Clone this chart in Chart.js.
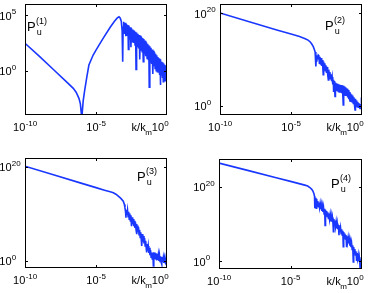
<!DOCTYPE html>
<html lang="en">
<head>
<meta charset="UTF-8">
<title>Velocity spectra P_u</title>
<script src="https://cdn.jsdelivr.net/npm/chart.js"></script>
<style>
  body { margin: 0; background: #fff; }
  canvas { position: absolute; }
</style>
</head>
<body>
<canvas id="p1" width="187" height="146" style="left:0;top:0"></canvas>
<canvas id="p2" width="187" height="146" style="left:187px;top:0"></canvas>
<canvas id="p3" width="187" height="147" style="left:0;top:146px"></canvas>
<canvas id="p4" width="187" height="147" style="left:187px;top:146px"></canvas>
<script>
// values are decade exponents: k/k_m = 10^k, P = 10^p
const xTickExps = [-10, -5, 0];

const kPanel1 = [
  -10, -9, -8, -7, -6.6, -6.4, -6.2, -6.1, -6.03, -6.0,
  -5.97, -5.9, -5.8, -5.65, -5.5, -5.2, -5.0, -4.5, -4.0, -3.7,
  -3.5, -3.38, -3.3, -3.22, -3.16, -3.12, -3.09, -3.05, -3.0, -2.95,
  -2.9, -2.85, -2.8, -2.75, -2.72, -2.68, -2.63, -2.58, -2.54, -2.5,
  -2.45, -2.4, -2.35, -2.3, -2.25, -2.21, -2.18, -2.14, -2.1, -2.05,
  -2.0, -1.95, -1.92, -1.88, -1.84, -1.8, -1.75, -1.71, -1.67, -1.63,
  -1.58, -1.54, -1.5, -1.45, -1.4, -1.36, -1.31, -1.28, -1.25, -1.21,
  -1.17, -1.13, -1.08, -1.04, -1.0, -0.96, -0.92, -0.88, -0.84, -0.8,
  -0.76, -0.72, -0.68, -0.64, -0.6, -0.56, -0.52, -0.49, -0.47, -0.44,
  -0.4, -0.36, -0.32, -0.29, -0.26, -0.23, -0.19, -0.16, -0.12, -0.09,
  -0.06, -0.03, 0
];
const pPanel1 = [
  2.46, 1.3, 0.1, -1.1, -1.6, -1.95, -2.5, -3.0, -3.9, -5.0,
  -3.8, -2.7, -1.8, -0.6, 0.5, 1.4, 1.85, 2.9, 3.9, 4.45,
  4.75, 4.85, 4.75, 4.45, 3.6, 0.8, 3.9, 4.4, 3.3, 4.3,
  3.1, 4.2, 3.2, 4.1, 1.9, 4.05, 2.8, 3.9, 2.1, 3.82,
  2.6, 3.7, 2.5, 3.6, 2.3, 3.5, 0.1, 3.42, 2.2, 3.32,
  2.0, 3.2, 1.0, 3.13, 1.8, 3.04, 1.7, 2.93, 0.8, 2.85,
  1.5, 2.7, 1.3, 2.56, 1.1, 2.42, 1.0, 2.29, -1.5, 2.2,
  0.8, 2.05, 0.6, 1.9, -0.3, 1.78, 0.4, 1.65, 0.2, 1.52,
  0.0, 1.38, -0.1, 1.23, -0.2, 1.1, -0.4, 1.02, -1.3, 0.95,
  -0.4, 0.8, -0.6, 0.72, -1.0, 0.63, -0.7, 0.52, -0.9, 0.45,
  -0.7, 0.35, -0.5
];

const kPanel2 = [
  -10, -8, -6, -5, -4.4, -4.0, -3.8, -3.66, -3.55, -3.43,
  -3.35, -3.3, -3.26, -3.24, -3.21, -3.18, -3.15, -3.12, -3.08, -3.04,
  -3.0, -2.96, -2.92, -2.88, -2.84, -2.8, -2.76, -2.73, -2.7, -2.66,
  -2.62, -2.58, -2.54, -2.5, -2.46, -2.42, -2.37, -2.34, -2.3, -2.26,
  -2.22, -2.18, -2.14, -2.1, -2.06, -2.02, -2.0, -1.97, -1.93, -1.9,
  -1.87, -1.83, -1.79, -1.75, -1.71, -1.67, -1.63, -1.59, -1.55, -1.51,
  -1.47, -1.43, -1.39, -1.35, -1.32, -1.29, -1.25, -1.21, -1.17, -1.13,
  -1.09, -1.05, -1.01, -0.97, -0.93, -0.89, -0.85, -0.81, -0.77, -0.73,
  -0.69, -0.65, -0.61, -0.57, -0.53, -0.49, -0.46, -0.42, -0.38, -0.34,
  -0.3, -0.26, -0.22, -0.18, -0.14, -0.11, -0.07, -0.04, 0
];
const pPanel2 = [
  20.05, 18.2, 16.4, 15.5, 14.95, 14.5, 14.2, 13.85, 13.4, 12.77,
  12.1, 11.6, 10.9, 8.5, 10.8, 9.5, 10.9, 10.0, 10.95, 10.8,
  9.2, 10.6, 8.9, 10.3, 8.6, 9.9, 8.3, 6.7, 9.55, 8.0,
  9.2, 7.6, 8.75, 7.1, 8.4, 6.8, 5.6, 7.8, 6.4, 7.3,
  5.7, 6.8, 5.3, 6.2, 4.6, 5.6, 3.0, 5.35, 3.8, 2.0,
  5.0, 3.4, 4.85, 3.3, 4.75, 3.1, 4.65, 3.0, 4.55, 2.8,
  4.5, 2.7, 4.4, 2.2, 0.2, 4.3, 2.4, 4.15, 2.3, 3.95,
  2.1, 3.7, 1.8, 3.4, 1.4, 3.0, 0.9, 2.7, 1.0, 2.45,
  0.8, 2.2, 0.5, 1.85, 0.2, -0.9, 1.5, 0.0, 1.15, -0.2,
  0.85, -0.3, 0.55, -0.4, -0.6, 0.4, -0.4, 0.3, -0.3
];

const kPanel3 = [
  -10, -8, -6, -5, -4.4, -4.0, -3.78, -3.6, -3.43, -3.25,
  -3.08, -3.0, -2.96, -2.92, -2.89, -2.86, -2.82, -2.78, -2.74, -2.7,
  -2.66, -2.62, -2.58, -2.54, -2.5, -2.46, -2.42, -2.38, -2.34, -2.3,
  -2.26, -2.22, -2.18, -2.14, -2.12, -2.09, -2.05, -2.01, -1.97, -1.93,
  -1.89, -1.85, -1.81, -1.78, -1.74, -1.7, -1.66, -1.62, -1.58, -1.54,
  -1.5, -1.46, -1.43, -1.4, -1.36, -1.32, -1.28, -1.24, -1.2, -1.16,
  -1.12, -1.08, -1.04, -1.0, -0.96, -0.93, -0.89, -0.85, -0.81, -0.77,
  -0.73, -0.69, -0.65, -0.61, -0.57, -0.53, -0.49, -0.45, -0.41, -0.37,
  -0.34, -0.3, -0.26, -0.22, -0.18, -0.14, -0.1, -0.07, -0.03, 0
];
const pPanel3 = [
  20.15, 18.35, 16.5, 15.6, 15.05, 14.7, 14.5, 14.2, 13.8, 13.3,
  12.7, 12.0, 11.3, 10.5, 9.2, 10.9, 9.8, 10.8, 9.4, 10.45,
  8.9, 10.1, 8.5, 9.7, 7.4, 9.3, 7.8, 8.9, 7.4, 8.55,
  7.0, 8.2, 6.6, 7.85, 5.7, 7.55, 6.1, 7.2, 5.6, 6.6,
  5.0, 6.1, 4.4, 3.2, 5.7, 4.1, 5.3, 3.7, 4.85, 3.2,
  4.3, 2.6, 1.8, 3.6, 2.2, 3.2, 1.7, 2.8, 1.2, 2.3,
  0.8, 1.8, 0.4, 1.8, -1.05, 1.85, 0.6, 1.8, 0.3, 1.6,
  0.1, 1.45, 0.2, 1.3, 0.0, 1.15, -0.1, 1.0, -0.3, -0.7,
  0.85, -0.2, 0.7, -0.4, 0.6, -0.3, -0.5, 0.45, -0.3, 0.35
];

const kPanel4 = [
  -10, -8, -6, -5, -4.4, -4.0, -3.8, -3.62, -3.5, -3.43,
  -3.36, -3.32, -3.3, -3.27, -3.23, -3.2, -3.17, -3.13, -3.09, -3.05,
  -3.01, -2.97, -2.93, -2.89, -2.85, -2.81, -2.77, -2.73, -2.69, -2.65,
  -2.61, -2.58, -2.55, -2.51, -2.47, -2.43, -2.39, -2.35, -2.31, -2.27,
  -2.23, -2.19, -2.15, -2.11, -2.07, -2.03, -2.0, -1.97, -1.93, -1.89,
  -1.85, -1.81, -1.77, -1.73, -1.69, -1.65, -1.61, -1.58, -1.54, -1.5,
  -1.46, -1.42, -1.38, -1.34, -1.31, -1.28, -1.24, -1.2, -1.16, -1.12,
  -1.08, -1.05, -1.01, -0.97, -0.93, -0.89, -0.85, -0.81, -0.77, -0.73,
  -0.69, -0.65, -0.61, -0.58, -0.54, -0.5, -0.46, -0.42, -0.38, -0.35,
  -0.31, -0.27, -0.23, -0.19, -0.15, -0.13, -0.1, -0.07, -0.04, 0
];
const pPanel4 = [
  26.3, 24.35, 22.4, 21.4, 20.8, 20.4, 20.15, 19.7, 19.2, 18.8,
  18.1, 17.4, 14.2, 17.0, 15.8, 14.2, 16.7, 14.8, 16.1, 14.6,
  15.75, 14.4, 15.45, 14.0, 15.1, 13.5, 14.75, 13.2, 14.4, 12.7,
  14.05, 9.6, 13.75, 12.4, 13.45, 12.0, 13.1, 11.5, 12.8, 11.3,
  12.45, 10.7, 12.1, 10.6, 11.75, 10.2, 7.9, 11.3, 9.8, 10.9,
  9.3, 10.5, 8.8, 10.1, 8.6, 9.7, 7.0, 9.35, 7.8, 8.95,
  7.4, 8.55, 7.0, 8.15, 3.9, 7.85, 6.4, 7.45, 6.0, 7.05,
  4.0, 6.7, 5.2, 6.3, 4.8, 5.9, 4.2, 5.3, 3.8, 4.9,
  3.2, 4.3, -0.2, 3.8, 2.2, 3.25, 1.7, 2.7, 0.3, 2.2,
  0.7, 1.7, 0.0, 1.1, -0.5, -2.2, 0.5, -1.0, 0.05, -0.8
];

const yTicks1 = [0, 5];
const yTicks234 = [0, 20];
const panelTags = ['(1)', '(2)', '(3)', '(4)'];

const FONT = '"Liberation Sans", Arial, Helvetica, sans-serif';
const LINE_BLUE = 'rgb(25, 55, 255)';

// "10" with raised exponent; mode: 'center' | 'right' | 'baseEnd'
function drawPower(ctx, exp, x, y, mode) {
  ctx.font = '11px ' + FONT;
  const wb = ctx.measureText('10').width;
  ctx.font = '8px ' + FONT;
  const we = ctx.measureText(exp).width;
  let x0 = x - wb;
  if (mode === 'center') x0 = x - (wb + we) / 2;
  if (mode === 'right') x0 = x - wb - we;
  ctx.font = '11px ' + FONT;
  ctx.fillText('10', x0, y);
  ctx.font = '8px ' + FONT;
  ctx.fillText(exp, x0 + wb + 0.3, y - 5.5);
  return x0;
}

const framePlugin = {
  id: 'frame',
  afterDatasetsDraw(chart, args, opts) {
    const ctx = chart.ctx;
    const a = chart.chartArea;
    const xs = chart.scales.x, ys = chart.scales.y;
    const L = Math.round(a.left), R = Math.round(a.right);
    const T = Math.round(a.top), B = Math.round(a.bottom);
    ctx.save();
    ctx.strokeStyle = '#000';
    ctx.fillStyle = '#000';
    ctx.lineWidth = 1;
    ctx.strokeRect(L + 0.5, T + 0.5, R - L - 1, B - T - 1);

    // inward tick marks
    ctx.beginPath();
    xTickExps.forEach(e => {
      const px = Math.round(xs.getPixelForValue(Math.pow(10, e))) + 0.5;
      if (px > L + 2 && px < R - 2) {
        ctx.moveTo(px, B); ctx.lineTo(px, B - 3);
        ctx.moveTo(px, T); ctx.lineTo(px, T + 3);
      }
    });
    opts.yTicks.forEach(e => {
      const py = Math.round(ys.getPixelForValue(Math.pow(10, e))) + 0.5;
      ctx.moveTo(L, py); ctx.lineTo(L + 3, py);
      ctx.moveTo(R, py); ctx.lineTo(R - 3, py);
    });
    ctx.stroke();

    ctx.textBaseline = 'alphabetic';
    ctx.textAlign = 'left';
    // x tick labels
    const xb = B + 16;
    let startZero = R;
    xTickExps.forEach(e => {
      const px = xs.getPixelForValue(Math.pow(10, e));
      if (e === 0) startZero = drawPower(ctx, '0', R + 1.5, xb, 'right');
      else drawPower(ctx, String(e), px, xb, 'center');
    });
    // axis label k/k_m sits just before 10^0
    ctx.font = '8px ' + FONT;
    const wm = ctx.measureText('m').width;
    ctx.font = '11px ' + FONT;
    const wk = ctx.measureText('k/k').width;
    const kx = startZero - wm - wk + 0.5;
    ctx.fillText('k/k', kx, xb);
    ctx.font = '8px ' + FONT;
    ctx.fillText('m', kx + wk - 0.5, xb + 4);

    // y tick labels
    opts.yTicks.forEach(e => {
      const py = ys.getPixelForValue(Math.pow(10, e));
      drawPower(ctx, String(e), L - 13.5, py + 4.5, 'baseEnd');
    });

    // panel tag P_u^(n)
    const t = opts.tag;
    ctx.font = '13px ' + FONT;
    ctx.fillText('P', t.x, t.y);
    const wp = ctx.measureText('P').width;
    ctx.font = '9px ' + FONT;
    ctx.fillText(t.text, t.x + wp + 0.3, t.y - 7);
    ctx.fillText('u', t.x + wp + 1, t.y + 3.5);
    ctx.restore();
  }
};

function makePanel(id, ks, ps, cfg) {
  const points = ks.map((k, i) => ({ x: Math.pow(10, k), y: Math.pow(10, ps[i]) }));
  new Chart(document.getElementById(id), {
    type: 'scatter',
    data: {
      datasets: [{
        data: points,
        showLine: true,
        borderColor: LINE_BLUE,
        borderWidth: 1.6,
        pointRadius: 0,
        tension: 0,
        clip: 0
      }]
    },
    options: {
      responsive: false,
      animation: false,
      devicePixelRatio: 1,
      events: [],
      layout: { padding: cfg.pad },
      scales: {
        x: { type: 'logarithmic', display: false, min: 1e-10, max: 1 },
        y: { type: 'logarithmic', display: false, min: Math.pow(10, cfg.yMin), max: Math.pow(10, cfg.yMax) }
      },
      plugins: {
        legend: { display: false },
        tooltip: { enabled: false },
        frame: { yTicks: cfg.yTicks, tag: cfg.tag }
      }
    },
    plugins: [framePlugin]
  });
}

makePanel('p1', kPanel1, pPanel1, {
  pad: { left: 25, right: 20, top: 4, bottom: 31 },
  yMin: -4, yMax: 6, yTicks: yTicks1,
  tag: { text: panelTags[0], x: 27, y: 31 }
});
makePanel('p2', kPanel2, pPanel2, {
  pad: { left: 33, right: 12, top: 4, bottom: 31 },
  yMin: -2, yMax: 22, yTicks: yTicks234,
  tag: { text: panelTags[1], x: 138, y: 30 }
});
makePanel('p3', kPanel3, pPanel3, {
  pad: { left: 25, right: 20, top: 12, bottom: 25 },
  yMin: -1.5, yMax: 21.9, yTicks: yTicks234,
  tag: { text: panelTags[2], x: 137, y: 35 }
});
makePanel('p4', kPanel4, pPanel4, {
  pad: { left: 32, right: 12, top: 13, bottom: 24 },
  yMin: -2.07, yMax: 27.4, yTicks: yTicks234,
  tag: { text: panelTags[3], x: 144, y: 42 }
});
</script>
</body>
</html>
